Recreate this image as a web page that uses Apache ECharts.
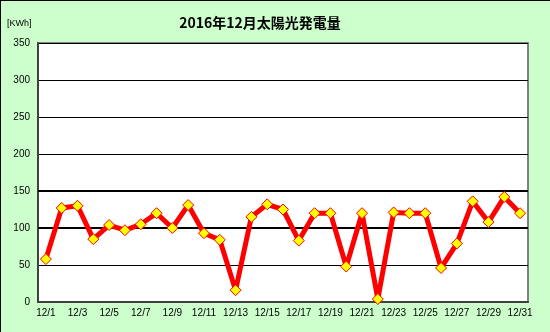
<!DOCTYPE html>
<html>
<head>
<meta charset="utf-8">
<script src="https://cdn.jsdelivr.net/npm/echarts@6/dist/echarts.min.js"></script>
<style>
html,body{margin:0;padding:0;background:#ccffcc;}
#c{width:550px;height:332px;box-sizing:border-box;border-left:1px solid #000;border-top:1px solid #000;}
</style>
</head>
<body>
<div id="c"></div>
<script>
const title = '2016年12月太陽光発電量';
const unitLabel = '[KWh]';
const categories = ['12/1','12/2','12/3','12/4','12/5','12/6','12/7','12/8','12/9','12/10','12/11','12/12','12/13','12/14','12/15','12/16','12/17','12/18','12/19','12/20','12/21','12/22','12/23','12/24','12/25','12/26','12/27','12/28','12/29','12/30','12/31'];
const values = [58,127,130,85,104,97,105,120,100,131,93,84,16,115,132,125,83,120,120,48,120,4,121,120,120,46,79,136,108,142,120];
const yTicks = [0,50,100,150,200,250,300,350];
const thickLines = [100,150];

const chart = echarts.init(document.getElementById('c'), null, {renderer:'canvas'});
const font = '"Liberation Sans", Arial, sans-serif';
chart.setOption({
  backgroundColor:'#ccffcc',
  animation:false,
  title:{
    text:title, left:254, top:10, textAlign:'center',
    textStyle:{fontFamily:'"Noto Sans CJK JP", sans-serif', fontSize:14, fontWeight:'bold', color:'#000'}
  },
  graphic:[{type:'text', left:6, top:18, style:{text:unitLabel, fontFamily:font, fontSize:9, fill:'#000'}}],
  grid:{left:37, right:22, top:42, bottom:30, show:true, backgroundColor:'#fff', borderColor:'#808080', borderWidth:2},
  xAxis:{
    type:'category', data:categories, boundaryGap:true,
    axisLine:{lineStyle:{color:'#404040', width:2}},
    axisTick:{inside:true, length:3, interval:1, lineStyle:{color:'#000'}},
    axisLabel:{interval:1, fontFamily:font, fontSize:10, color:'#000', margin:6}
  },
  yAxis:{
    type:'value', min:yTicks[0], max:yTicks[yTicks.length-1], interval:50,
    axisLine:{show:true, lineStyle:{color:'#404040', width:2}},
    axisTick:{show:false},
    axisLabel:{fontFamily:font, fontSize:10, color:'#000', margin:8},
    splitLine:{lineStyle:{color:'#000', width:1}}
  },
  series:[{
    type:'line', data:values,
    showAllSymbol:true,
    lineStyle:{color:'#ff0000', width:5},
    symbol:'diamond', symbolSize:11,
    itemStyle:{color:'#ffff00', borderColor:'#ff0000', borderWidth:1},
    markLine:{
      silent:true, symbol:'none', label:{show:false}, z:1,
      lineStyle:{color:'#000', width:2, type:'solid'},
      data: thickLines.map(v=>({yAxis:v}))
    }
  }]
});
</script>
</body>
</html>
